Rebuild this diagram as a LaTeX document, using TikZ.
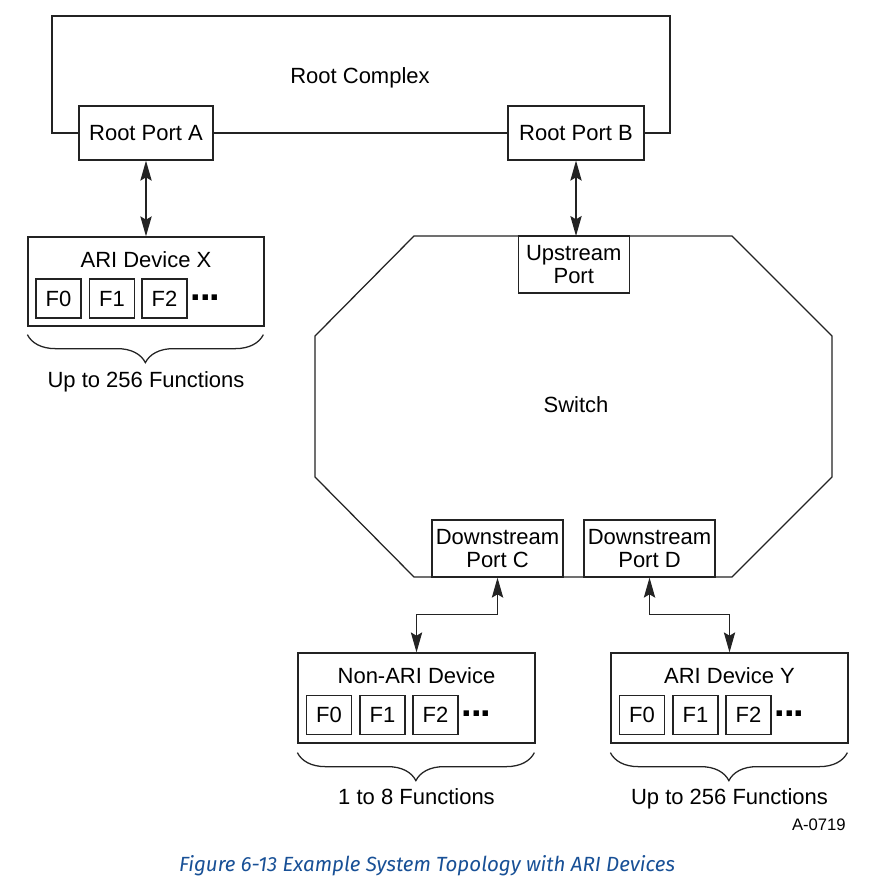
\documentclass[tikz,border=0pt]{standalone}
\usepackage{fontspec}
\setmainfont{Liberation Sans}
\newfontfamily\capfont{Fira Sans}
\usetikzlibrary{arrows.meta}
\usetikzlibrary{decorations.pathreplacing}
\definecolor{capblue}{RGB}{24,80,150}
\definecolor{ink}{RGB}{35,35,35}
\tikzset{
  wire/.style={draw=ink, line width=0.95pt},
  box/.style={wire, align=center, inner sep=0.75pt},
  fbox/.style={box, minimum width=33.75pt, minimum height=29.25pt},
  link/.style={wire, {Stealth[length=15pt,width=8.5pt,inset=2.5pt]}-{Stealth[length=15pt,width=8.5pt,inset=2.5pt]}},
  brc/.style={wire, decorate, decoration={brace, mirror, amplitude=21pt}},
  dots/.style={font=\fontsize{28.5}{28.5}\selectfont\bfseries, inner sep=0pt}
}
\newcommand{\moredots}{.\kern-0.95pt.\kern-0.95pt.}

\begin{document}
\begin{tikzpicture}[x=0.75pt,y=0.75pt,yscale=-1,xscale=1,
  every node/.append style={font=\fontsize{16.5}{17.25}\selectfont, inner sep=0.75pt}]
\useasboundingbox (0,0) rectangle (891,888);

%Shape: Rectangle [Root Port A]
\node[box, minimum width=100.5pt, minimum height=40.5pt] (rpA) at (146,133) {Root Port A};
%Shape: Rectangle [Root Port B]
\node[box, minimum width=102pt, minimum height=40.5pt] (rpB) at (576,133) {Root Port B};
%Straight Lines [root complex outline]
\draw[wire] (rpA.west) -| (52,16) -| (670,133) -- (rpB.east) ;
\draw[wire] (rpA.east) -- (rpB.west) ;
% Text Node
\node[anchor=base] (rc) at (360,84) {Root Complex};

%Shape: Rectangle [ARI Device X]
\node[box, minimum width=177pt, minimum height=66.75pt] (ariX) at (146,281.5) {};
% Text Node
\node (ariXt) at (146,259.5) {ARI Device X};
\node[fbox] (xf0) at (58.5,298.5) {F0};
\node[fbox] (xf1) at (112,298.5) {F1};
\node[fbox] (xf2) at (164.5,298.5) {F2};
\node[dots] (xdots) at (205.5,297.5) {\moredots};
%Brace
\draw[brc] (ariX.south west) ++(0,8) coordinate (xbl) -- ++(236,0) coordinate (xbr) ;
% Text Node
\node[anchor=base] (xfn) at (146,387) {Up to 256 Functions};
%Straight Lines [A link]
\draw[link] (rpA.south) -- (ariX.north) ;

%Shape: Octagon [Switch]
\draw[wire] (414,236) -- (732,236) -- (832,336) -- (832,477) -- (732,577) -- (414,577) -- (315,477) -- (315,336) -- cycle ;
\coordinate (swtop) at (576,236);
% Text Node
\node (sw) at (576,405) {Switch};
\node[box, minimum width=83.25pt, minimum height=42.75pt] (up) at (573.75,264.5) {Upstream\\Port};
\node[box, minimum width=98.25pt, minimum height=42.75pt] (dpC) at (497.5,548.5) {Downstream\\Port C};
\node[box, minimum width=98.25pt, minimum height=42.75pt] (dpD) at (649.5,548.5) {Downstream\\Port D};
%Straight Lines [B link]
\draw[link] (rpB.south) -- (swtop) ;

%Shape: Rectangle [Non-ARI Device]
\node[box, minimum width=177.75pt, minimum height=67.5pt] (nonari) at (416.5,698) {};
\node (nonarit) at (416.5,675.5) {Non-ARI Device};
\node[fbox] (nf0) at (329,715) {F0};
\node[fbox] (nf1) at (382.5,715) {F1};
\node[fbox] (nf2) at (435.5,715) {F2};
\node[dots] (ndots) at (476.5,714) {\moredots};
\draw[brc] (nonari.south west) ++(0,9) -- ++(237,0) ;
\node[anchor=base] (nfn) at (416.5,804) {1 to 8 Functions};

%Shape: Rectangle [ARI Device Y]
\node[box, minimum width=177.75pt, minimum height=67.5pt] (ariY) at (729.5,698) {};
\node (ariYt) at (729.5,675.5) {ARI Device Y};
\node[fbox] (yf0) at (642,715) {F0};
\node[fbox] (yf1) at (695.5,715) {F1};
\node[fbox] (yf2) at (748.5,715) {F2};
\node[dots] (ydots) at (789.5,714) {\moredots};
\draw[brc] (ariY.south west) ++(0,9) -- ++(237,0) ;
\node[anchor=base] (yfn) at (729.5,804) {Up to 256 Functions};

%Straight Lines [C and D links]
\draw[link] (dpC.south) -- ++(0,37) -| (nonari.north) ;
\draw[link] (dpD.south) -- ++(0,37) -| (ariY.north) ;

% Text Node
\node[anchor=base east, font=\fontsize{12.5}{14}\selectfont] (fig) at (847,830) {A-0719};
\node[anchor=base, text=capblue, font=\capfont\itshape\fontsize{15.4}{17}\selectfont] (cap) at (427,871) {Figure 6-13 Example System Topology with ARI Devices};
\end{tikzpicture}
\end{document}
